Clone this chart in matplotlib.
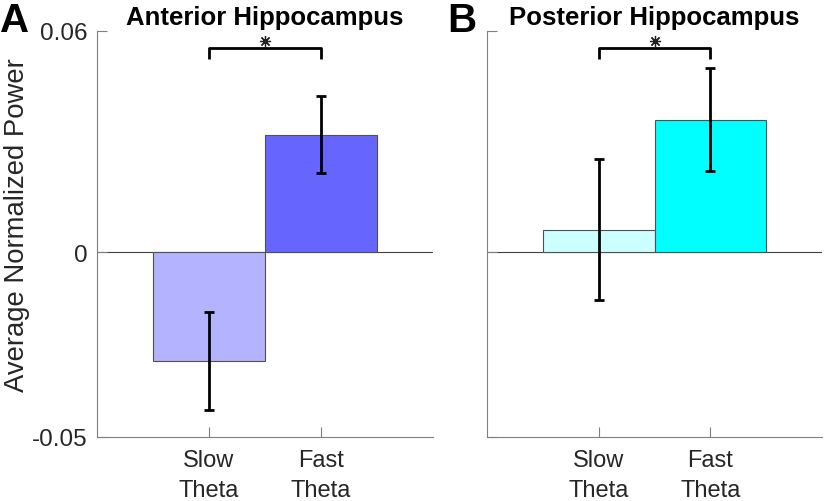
import numpy as np
import matplotlib
matplotlib.use('Agg')
import matplotlib.pyplot as plt

plt.rcParams['font.family'] = ['Liberation Sans', 'DejaVu Sans']

categories = ['Slow\nTheta', 'Fast\nTheta']
titles = ['Anterior Hippocampus', 'Posterior Hippocampus']
panel_labels = ['A', 'B']

# mean and error-bar ends
means = [[-0.0294, 0.0318], [0.0061, 0.0359]]
err_low = [[-0.0427, 0.0215], [-0.0129, 0.0221]]
err_high = [[-0.0161, 0.0424], [0.0253, 0.0500]]
colors = [['#b3b3ff', '#6666ff'], ['#ccffff', '#00ffff']]

ylim = (-0.05, 0.06)
yticks = [-0.05, 0, 0.06]
ytick_labels = ['-0.05', '0', '0.06']
sig_y = 0.0555
sig_drop = 0.003

fig = plt.figure(figsize=(8.26, 5.02), dpi=100)
positions = [[0.1174, 0.1275, 0.4068, 0.8088], [0.5896, 0.1275, 0.4056, 0.8088]]
label_x = [0.0, 0.541]
axis_col = '#7f7f7f'
text_col = '#262626'

for p in range(2):
    ax = fig.add_axes(positions[p])
    x = np.arange(1, len(categories) + 1)
    m = np.array(means[p])
    lo = m - np.array(err_low[p])
    hi = np.array(err_high[p]) - m
    ax.bar(x, m, width=1.0, color=colors[p], edgecolor='#505050', linewidth=0.8, zorder=2)
    ax.axhline(0, color='#404040', linewidth=0.8, zorder=1)
    ax.errorbar(x, m, yerr=[lo, hi], fmt='none', ecolor='black', elinewidth=2,
                capsize=3.6, capthick=2, zorder=3)

    # significance bracket
    ax.plot([x[0], x[0], x[1], x[1]], [sig_y - sig_drop, sig_y, sig_y, sig_y - sig_drop],
            color='black', linewidth=2, solid_capstyle='butt', clip_on=False)
    ax.plot([x.mean()], [sig_y + 0.0019], marker=(8, 2, 0), ms=8, mew=0.9,
            color='#202020', clip_on=False)

    ax.set_xlim(0, 3)
    ax.set_ylim(*ylim)
    ax.set_xticks(x)
    ax.set_xticklabels(categories, fontsize=17, color=text_col, linespacing=1.45)
    ax.set_yticks(yticks)
    if p == 0:
        ax.set_yticklabels(ytick_labels, fontsize=17.5, color=text_col)
        ax.set_ylabel('Average Normalized Power', fontsize=19.8, color=text_col)
        ax.yaxis.set_label_coords(-0.198, 0.525)
    else:
        ax.set_yticklabels([])
    ax.tick_params(axis='y', direction='in', length=7.2, width=0.8, color=axis_col, pad=6.5)
    ax.tick_params(axis='x', direction='in', length=7.2, width=0.8, color=axis_col, pad=9)
    for s in ['top', 'right']:
        ax.spines[s].set_visible(False)
    for s in ['left', 'bottom']:
        ax.spines[s].set_color(axis_col)
        ax.spines[s].set_linewidth(0.8)
    ax.set_title(titles[p], fontsize=18.5, fontweight='bold', pad=5)
    fig.text(label_x[p], 1 - 32 / 502, panel_labels[p], fontsize=29, fontweight='bold',
             ha='left', va='baseline')

fig.savefig('out.png', dpi=100)
